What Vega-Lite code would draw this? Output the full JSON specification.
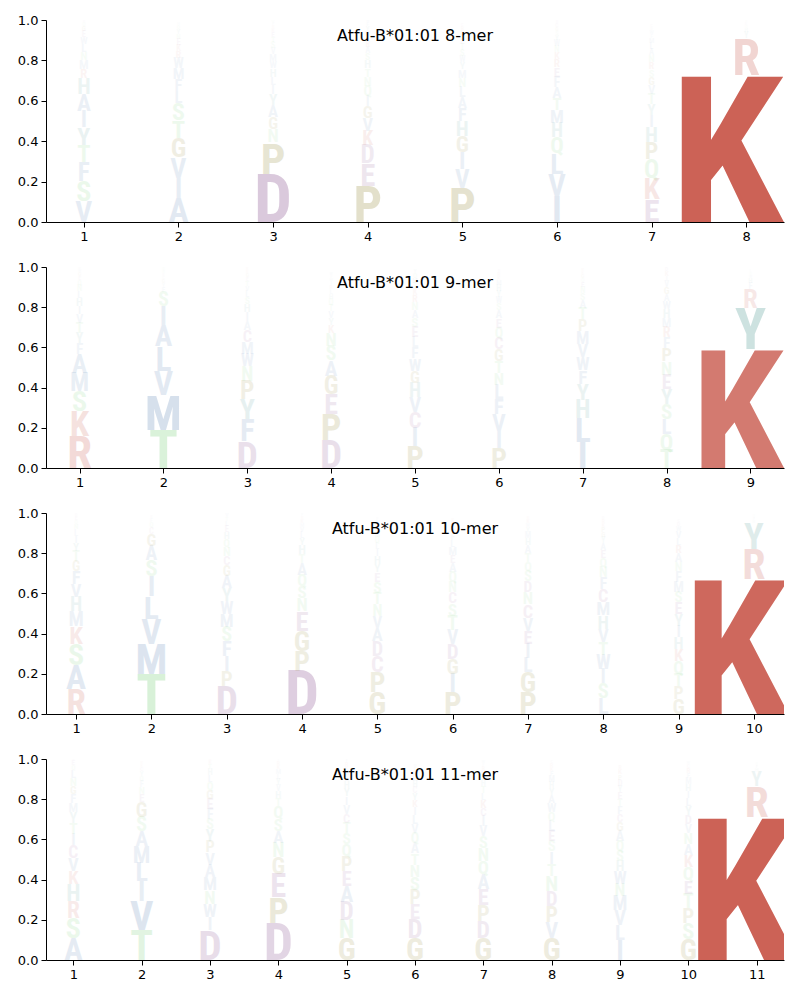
{
"$schema": "https://vega.github.io/schema/vega-lite/v6.json",
"background": "white",
"padding": {"left": 17, "top": 14, "right": 5, "bottom": 5},
"spacing": 18,
"config": {
  "view": {"stroke": null},
  "axis": {"domainColor": "black", "tickColor": "black", "labelColor": "black", "labelFont": "DejaVu Sans", "labelFontSize": 13, "tickSize": 5, "labelPadding": 3, "grid": false, "title": null},
  "title": {"font": "DejaVu Sans", "fontSize": 16, "fontWeight": "normal", "color": "black", "anchor": "middle", "offset": -30},
  "text": {"baseline": "alphabetic", "align": "center", "font": "Roboto Condensed, Liberation Sans Narrow, DejaVu Sans Condensed, DejaVu Sans Mono, monospace", "fontWeight": "bold"}
},
"datasets": {
"logo": [
{"mer":8,"pos":1,"aa":"V","p":0.105},{"mer":8,"pos":1,"aa":"S","p":0.10},{"mer":8,"pos":1,"aa":"F","p":0.09},{"mer":8,"pos":1,"aa":"T","p":0.087},{"mer":8,"pos":1,"aa":"Y","p":0.086},{"mer":8,"pos":1,"aa":"I","p":0.083},{"mer":8,"pos":1,"aa":"A","p":0.083},{"mer":8,"pos":1,"aa":"H","p":0.078},{"mer":8,"pos":1,"aa":"R","p":0.045},{"mer":8,"pos":1,"aa":"M","p":0.045},{"mer":8,"pos":1,"aa":"N","p":0.04},{"mer":8,"pos":1,"aa":"L","p":0.04},{"mer":8,"pos":1,"aa":"W","p":0.035},{"mer":8,"pos":1,"aa":"E","p":0.03},{"mer":8,"pos":1,"aa":"G","p":0.025},{"mer":8,"pos":1,"aa":"Q","p":0.02},{"mer":8,"pos":1,"aa":"D","p":0.015},
{"mer":8,"pos":2,"aa":"A","p":0.12},{"mer":8,"pos":2,"aa":"I","p":0.10},{"mer":8,"pos":2,"aa":"V","p":0.10},{"mer":8,"pos":2,"aa":"G","p":0.095},{"mer":8,"pos":2,"aa":"T","p":0.088},{"mer":8,"pos":2,"aa":"S","p":0.085},{"mer":8,"pos":2,"aa":"L","p":0.06},{"mer":8,"pos":2,"aa":"F","p":0.058},{"mer":8,"pos":2,"aa":"M","p":0.055},{"mer":8,"pos":2,"aa":"W","p":0.05},{"mer":8,"pos":2,"aa":"R","p":0.035},{"mer":8,"pos":2,"aa":"K","p":0.03},{"mer":8,"pos":2,"aa":"E","p":0.03},{"mer":8,"pos":2,"aa":"N","p":0.025},{"mer":8,"pos":2,"aa":"Y","p":0.025},{"mer":8,"pos":2,"aa":"Q","p":0.02},{"mer":8,"pos":2,"aa":"H","p":0.015},
{"mer":8,"pos":3,"aa":"D","p":0.24},{"mer":8,"pos":3,"aa":"P","p":0.155},{"mer":8,"pos":3,"aa":"N","p":0.065},{"mer":8,"pos":3,"aa":"G","p":0.06},{"mer":8,"pos":3,"aa":"A","p":0.06},{"mer":8,"pos":3,"aa":"Y","p":0.055},{"mer":8,"pos":3,"aa":"I","p":0.045},{"mer":8,"pos":3,"aa":"L","p":0.04},{"mer":8,"pos":3,"aa":"H","p":0.04},{"mer":8,"pos":3,"aa":"W","p":0.035},{"mer":8,"pos":3,"aa":"M","p":0.035},{"mer":8,"pos":3,"aa":"V","p":0.03},{"mer":8,"pos":3,"aa":"S","p":0.03},{"mer":8,"pos":3,"aa":"T","p":0.025},{"mer":8,"pos":3,"aa":"E","p":0.025},{"mer":8,"pos":3,"aa":"K","p":0.02},{"mer":8,"pos":3,"aa":"R","p":0.015},{"mer":8,"pos":3,"aa":"F","p":0.015},{"mer":8,"pos":3,"aa":"Q","p":0.015},
{"mer":8,"pos":4,"aa":"P","p":0.18},{"mer":8,"pos":4,"aa":"E","p":0.11},{"mer":8,"pos":4,"aa":"D","p":0.09},{"mer":8,"pos":4,"aa":"K","p":0.07},{"mer":8,"pos":4,"aa":"V","p":0.065},{"mer":8,"pos":4,"aa":"G","p":0.06},{"mer":8,"pos":4,"aa":"I","p":0.05},{"mer":8,"pos":4,"aa":"Q","p":0.05},{"mer":8,"pos":4,"aa":"N","p":0.045},{"mer":8,"pos":4,"aa":"T","p":0.04},{"mer":8,"pos":4,"aa":"H","p":0.04},{"mer":8,"pos":4,"aa":"S","p":0.035},{"mer":8,"pos":4,"aa":"A","p":0.03},{"mer":8,"pos":4,"aa":"R","p":0.03},{"mer":8,"pos":4,"aa":"L","p":0.025},{"mer":8,"pos":4,"aa":"M","p":0.025},{"mer":8,"pos":4,"aa":"Y","p":0.025},{"mer":8,"pos":4,"aa":"F","p":0.02},{"mer":8,"pos":4,"aa":"W","p":0.015},
{"mer":8,"pos":5,"aa":"P","p":0.17},{"mer":8,"pos":5,"aa":"V","p":0.09},{"mer":8,"pos":5,"aa":"I","p":0.085},{"mer":8,"pos":5,"aa":"G","p":0.08},{"mer":8,"pos":5,"aa":"H","p":0.075},{"mer":8,"pos":5,"aa":"F","p":0.065},{"mer":8,"pos":5,"aa":"A","p":0.055},{"mer":8,"pos":5,"aa":"L","p":0.05},{"mer":8,"pos":5,"aa":"N","p":0.045},{"mer":8,"pos":5,"aa":"M","p":0.04},{"mer":8,"pos":5,"aa":"Y","p":0.035},{"mer":8,"pos":5,"aa":"W","p":0.03},{"mer":8,"pos":5,"aa":"S","p":0.03},{"mer":8,"pos":5,"aa":"T","p":0.03},{"mer":8,"pos":5,"aa":"E","p":0.025},{"mer":8,"pos":5,"aa":"Q","p":0.025},{"mer":8,"pos":5,"aa":"K","p":0.02},{"mer":8,"pos":5,"aa":"R","p":0.02},{"mer":8,"pos":5,"aa":"C","p":0.015},
{"mer":8,"pos":6,"aa":"I","p":0.13},{"mer":8,"pos":6,"aa":"V","p":0.11},{"mer":8,"pos":6,"aa":"L","p":0.10},{"mer":8,"pos":6,"aa":"Q","p":0.08},{"mer":8,"pos":6,"aa":"H","p":0.07},{"mer":8,"pos":6,"aa":"M","p":0.065},{"mer":8,"pos":6,"aa":"T","p":0.06},{"mer":8,"pos":6,"aa":"A","p":0.055},{"mer":8,"pos":6,"aa":"F","p":0.05},{"mer":8,"pos":6,"aa":"E","p":0.045},{"mer":8,"pos":6,"aa":"R","p":0.04},{"mer":8,"pos":6,"aa":"K","p":0.035},{"mer":8,"pos":6,"aa":"N","p":0.03},{"mer":8,"pos":6,"aa":"W","p":0.03},{"mer":8,"pos":6,"aa":"Y","p":0.025},{"mer":8,"pos":6,"aa":"S","p":0.02},{"mer":8,"pos":6,"aa":"G","p":0.02},{"mer":8,"pos":6,"aa":"C","p":0.02},{"mer":8,"pos":6,"aa":"D","p":0.015},
{"mer":8,"pos":7,"aa":"E","p":0.115},{"mer":8,"pos":7,"aa":"K","p":0.105},{"mer":8,"pos":7,"aa":"Q","p":0.09},{"mer":8,"pos":7,"aa":"P","p":0.085},{"mer":8,"pos":7,"aa":"H","p":0.075},{"mer":8,"pos":7,"aa":"I","p":0.06},{"mer":8,"pos":7,"aa":"Y","p":0.055},{"mer":8,"pos":7,"aa":"T","p":0.05},{"mer":8,"pos":7,"aa":"V","p":0.045},{"mer":8,"pos":7,"aa":"G","p":0.04},{"mer":8,"pos":7,"aa":"S","p":0.035},{"mer":8,"pos":7,"aa":"R","p":0.035},{"mer":8,"pos":7,"aa":"N","p":0.035},{"mer":8,"pos":7,"aa":"A","p":0.03},{"mer":8,"pos":7,"aa":"L","p":0.03},{"mer":8,"pos":7,"aa":"M","p":0.025},{"mer":8,"pos":7,"aa":"F","p":0.02},{"mer":8,"pos":7,"aa":"W","p":0.02},{"mer":8,"pos":7,"aa":"D","p":0.015},{"mer":8,"pos":7,"aa":"C","p":0.015},
{"mer":8,"pos":8,"aa":"K","p":0.73},{"mer":8,"pos":8,"aa":"R","p":0.18},{"mer":8,"pos":8,"aa":"Y","p":0.03},{"mer":8,"pos":8,"aa":"H","p":0.02},{"mer":8,"pos":8,"aa":"Q","p":0.015},{"mer":8,"pos":8,"aa":"E","p":0.015},{"mer":8,"pos":8,"aa":"N","p":0.01},

{"mer":9,"pos":1,"aa":"R","p":0.16},{"mer":9,"pos":1,"aa":"K","p":0.125},{"mer":9,"pos":1,"aa":"S","p":0.10},{"mer":9,"pos":1,"aa":"M","p":0.09},{"mer":9,"pos":1,"aa":"A","p":0.09},{"mer":9,"pos":1,"aa":"F","p":0.055},{"mer":9,"pos":1,"aa":"Y","p":0.05},{"mer":9,"pos":1,"aa":"T","p":0.05},{"mer":9,"pos":1,"aa":"V","p":0.045},{"mer":9,"pos":1,"aa":"I","p":0.04},{"mer":9,"pos":1,"aa":"H","p":0.04},{"mer":9,"pos":1,"aa":"L","p":0.035},{"mer":9,"pos":1,"aa":"N","p":0.03},{"mer":9,"pos":1,"aa":"Q","p":0.025},{"mer":9,"pos":1,"aa":"E","p":0.02},{"mer":9,"pos":1,"aa":"G","p":0.02},{"mer":9,"pos":1,"aa":"W","p":0.015},{"mer":9,"pos":1,"aa":"D","p":0.015},
{"mer":9,"pos":2,"aa":"T","p":0.19},{"mer":9,"pos":2,"aa":"M","p":0.175},{"mer":9,"pos":2,"aa":"V","p":0.12},{"mer":9,"pos":2,"aa":"L","p":0.12},{"mer":9,"pos":2,"aa":"A","p":0.105},{"mer":9,"pos":2,"aa":"I","p":0.095},{"mer":9,"pos":2,"aa":"S","p":0.07},{"mer":9,"pos":2,"aa":"F","p":0.025},{"mer":9,"pos":2,"aa":"Y","p":0.02},{"mer":9,"pos":2,"aa":"G","p":0.02},{"mer":9,"pos":2,"aa":"C","p":0.015},{"mer":9,"pos":2,"aa":"E","p":0.015},{"mer":9,"pos":2,"aa":"N","p":0.015},{"mer":9,"pos":2,"aa":"Q","p":0.015},
{"mer":9,"pos":3,"aa":"D","p":0.135},{"mer":9,"pos":3,"aa":"F","p":0.11},{"mer":9,"pos":3,"aa":"Y","p":0.10},{"mer":9,"pos":3,"aa":"P","p":0.09},{"mer":9,"pos":3,"aa":"N","p":0.07},{"mer":9,"pos":3,"aa":"W","p":0.063},{"mer":9,"pos":3,"aa":"M","p":0.06},{"mer":9,"pos":3,"aa":"C","p":0.058},{"mer":9,"pos":3,"aa":"A","p":0.045},{"mer":9,"pos":3,"aa":"I","p":0.045},{"mer":9,"pos":3,"aa":"H","p":0.04},{"mer":9,"pos":3,"aa":"S","p":0.035},{"mer":9,"pos":3,"aa":"L","p":0.03},{"mer":9,"pos":3,"aa":"V","p":0.025},{"mer":9,"pos":3,"aa":"T","p":0.025},{"mer":9,"pos":3,"aa":"E","p":0.02},{"mer":9,"pos":3,"aa":"G","p":0.02},{"mer":9,"pos":3,"aa":"R","p":0.015},{"mer":9,"pos":3,"aa":"K","p":0.015},
{"mer":9,"pos":4,"aa":"D","p":0.14},{"mer":9,"pos":4,"aa":"P","p":0.13},{"mer":9,"pos":4,"aa":"E","p":0.10},{"mer":9,"pos":4,"aa":"G","p":0.09},{"mer":9,"pos":4,"aa":"A","p":0.075},{"mer":9,"pos":4,"aa":"S","p":0.07},{"mer":9,"pos":4,"aa":"N","p":0.065},{"mer":9,"pos":4,"aa":"K","p":0.04},{"mer":9,"pos":4,"aa":"Y","p":0.035},{"mer":9,"pos":4,"aa":"V","p":0.035},{"mer":9,"pos":4,"aa":"T","p":0.03},{"mer":9,"pos":4,"aa":"Q","p":0.03},{"mer":9,"pos":4,"aa":"H","p":0.025},{"mer":9,"pos":4,"aa":"L","p":0.025},{"mer":9,"pos":4,"aa":"R","p":0.02},{"mer":9,"pos":4,"aa":"I","p":0.02},{"mer":9,"pos":4,"aa":"M","p":0.015},{"mer":9,"pos":4,"aa":"F","p":0.015},{"mer":9,"pos":4,"aa":"W","p":0.015},
{"mer":9,"pos":5,"aa":"P","p":0.11},{"mer":9,"pos":5,"aa":"I","p":0.09},{"mer":9,"pos":5,"aa":"C","p":0.08},{"mer":9,"pos":5,"aa":"V","p":0.075},{"mer":9,"pos":5,"aa":"H","p":0.07},{"mer":9,"pos":5,"aa":"G","p":0.06},{"mer":9,"pos":5,"aa":"W","p":0.06},{"mer":9,"pos":5,"aa":"F","p":0.055},{"mer":9,"pos":5,"aa":"L","p":0.05},{"mer":9,"pos":5,"aa":"E","p":0.05},{"mer":9,"pos":5,"aa":"S","p":0.045},{"mer":9,"pos":5,"aa":"A","p":0.04},{"mer":9,"pos":5,"aa":"N","p":0.04},{"mer":9,"pos":5,"aa":"R","p":0.035},{"mer":9,"pos":5,"aa":"K","p":0.03},{"mer":9,"pos":5,"aa":"T","p":0.03},{"mer":9,"pos":5,"aa":"M","p":0.025},{"mer":9,"pos":5,"aa":"Q","p":0.025},{"mer":9,"pos":5,"aa":"Y","p":0.02},
{"mer":9,"pos":6,"aa":"P","p":0.10},{"mer":9,"pos":6,"aa":"I","p":0.085},{"mer":9,"pos":6,"aa":"V","p":0.085},{"mer":9,"pos":6,"aa":"F","p":0.075},{"mer":9,"pos":6,"aa":"L","p":0.07},{"mer":9,"pos":6,"aa":"N","p":0.06},{"mer":9,"pos":6,"aa":"T","p":0.058},{"mer":9,"pos":6,"aa":"G","p":0.058},{"mer":9,"pos":6,"aa":"C","p":0.058},{"mer":9,"pos":6,"aa":"Q","p":0.05},{"mer":9,"pos":6,"aa":"E","p":0.045},{"mer":9,"pos":6,"aa":"A","p":0.04},{"mer":9,"pos":6,"aa":"S","p":0.035},{"mer":9,"pos":6,"aa":"W","p":0.03},{"mer":9,"pos":6,"aa":"Y","p":0.03},{"mer":9,"pos":6,"aa":"H","p":0.03},{"mer":9,"pos":6,"aa":"M","p":0.025},{"mer":9,"pos":6,"aa":"K","p":0.02},{"mer":9,"pos":6,"aa":"R","p":0.02},{"mer":9,"pos":6,"aa":"D","p":0.015},
{"mer":9,"pos":7,"aa":"I","p":0.13},{"mer":9,"pos":7,"aa":"L","p":0.12},{"mer":9,"pos":7,"aa":"H","p":0.09},{"mer":9,"pos":7,"aa":"Y","p":0.08},{"mer":9,"pos":7,"aa":"F","p":0.068},{"mer":9,"pos":7,"aa":"W","p":0.065},{"mer":9,"pos":7,"aa":"V","p":0.065},{"mer":9,"pos":7,"aa":"M","p":0.063},{"mer":9,"pos":7,"aa":"P","p":0.058},{"mer":9,"pos":7,"aa":"T","p":0.058},{"mer":9,"pos":7,"aa":"A","p":0.04},{"mer":9,"pos":7,"aa":"S","p":0.035},{"mer":9,"pos":7,"aa":"N","p":0.03},{"mer":9,"pos":7,"aa":"E","p":0.025},{"mer":9,"pos":7,"aa":"Q","p":0.02},{"mer":9,"pos":7,"aa":"G","p":0.02},{"mer":9,"pos":7,"aa":"K","p":0.015},{"mer":9,"pos":7,"aa":"R","p":0.015},
{"mer":9,"pos":8,"aa":"T","p":0.09},{"mer":9,"pos":8,"aa":"Q","p":0.08},{"mer":9,"pos":8,"aa":"L","p":0.075},{"mer":9,"pos":8,"aa":"S","p":0.075},{"mer":9,"pos":8,"aa":"Y","p":0.075},{"mer":9,"pos":8,"aa":"E","p":0.07},{"mer":9,"pos":8,"aa":"N","p":0.065},{"mer":9,"pos":8,"aa":"P","p":0.065},{"mer":9,"pos":8,"aa":"F","p":0.055},{"mer":9,"pos":8,"aa":"R","p":0.05},{"mer":9,"pos":8,"aa":"M","p":0.045},{"mer":9,"pos":8,"aa":"H","p":0.045},{"mer":9,"pos":8,"aa":"W","p":0.04},{"mer":9,"pos":8,"aa":"A","p":0.035},{"mer":9,"pos":8,"aa":"G","p":0.035},{"mer":9,"pos":8,"aa":"V","p":0.03},{"mer":9,"pos":8,"aa":"I","p":0.025},{"mer":9,"pos":8,"aa":"K","p":0.025},{"mer":9,"pos":8,"aa":"D","p":0.02},
{"mer":9,"pos":9,"aa":"K","p":0.59},{"mer":9,"pos":9,"aa":"Y","p":0.205},{"mer":9,"pos":9,"aa":"R","p":0.095},{"mer":9,"pos":9,"aa":"F","p":0.03},{"mer":9,"pos":9,"aa":"H","p":0.025},{"mer":9,"pos":9,"aa":"W","p":0.015},{"mer":9,"pos":9,"aa":"Q","p":0.015},{"mer":9,"pos":9,"aa":"L","p":0.01},

{"mer":10,"pos":1,"aa":"R","p":0.125},{"mer":10,"pos":1,"aa":"A","p":0.12},{"mer":10,"pos":1,"aa":"S","p":0.105},{"mer":10,"pos":1,"aa":"K","p":0.088},{"mer":10,"pos":1,"aa":"M","p":0.072},{"mer":10,"pos":1,"aa":"H","p":0.071},{"mer":10,"pos":1,"aa":"V","p":0.066},{"mer":10,"pos":1,"aa":"F","p":0.066},{"mer":10,"pos":1,"aa":"G","p":0.05},{"mer":10,"pos":1,"aa":"T","p":0.05},{"mer":10,"pos":1,"aa":"Y","p":0.04},{"mer":10,"pos":1,"aa":"I","p":0.035},{"mer":10,"pos":1,"aa":"L","p":0.03},{"mer":10,"pos":1,"aa":"N","p":0.025},{"mer":10,"pos":1,"aa":"Q","p":0.02},{"mer":10,"pos":1,"aa":"E","p":0.02},{"mer":10,"pos":1,"aa":"D","p":0.015},{"mer":10,"pos":1,"aa":"W","p":0.015},
{"mer":10,"pos":2,"aa":"T","p":0.20},{"mer":10,"pos":2,"aa":"M","p":0.15},{"mer":10,"pos":2,"aa":"V","p":0.125},{"mer":10,"pos":2,"aa":"L","p":0.113},{"mer":10,"pos":2,"aa":"I","p":0.10},{"mer":10,"pos":2,"aa":"S","p":0.08},{"mer":10,"pos":2,"aa":"A","p":0.07},{"mer":10,"pos":2,"aa":"G","p":0.06},{"mer":10,"pos":2,"aa":"C","p":0.03},{"mer":10,"pos":2,"aa":"Q","p":0.025},{"mer":10,"pos":2,"aa":"F","p":0.02},{"mer":10,"pos":2,"aa":"E","p":0.015},
{"mer":10,"pos":3,"aa":"D","p":0.14},{"mer":10,"pos":3,"aa":"P","p":0.075},{"mer":10,"pos":3,"aa":"I","p":0.075},{"mer":10,"pos":3,"aa":"F","p":0.075},{"mer":10,"pos":3,"aa":"S","p":0.07},{"mer":10,"pos":3,"aa":"M","p":0.065},{"mer":10,"pos":3,"aa":"W","p":0.063},{"mer":10,"pos":3,"aa":"Y","p":0.063},{"mer":10,"pos":3,"aa":"A","p":0.063},{"mer":10,"pos":3,"aa":"G","p":0.05},{"mer":10,"pos":3,"aa":"C","p":0.045},{"mer":10,"pos":3,"aa":"N","p":0.045},{"mer":10,"pos":3,"aa":"Q","p":0.04},{"mer":10,"pos":3,"aa":"H","p":0.035},{"mer":10,"pos":3,"aa":"E","p":0.03},{"mer":10,"pos":3,"aa":"L","p":0.025},{"mer":10,"pos":3,"aa":"T","p":0.02},{"mer":10,"pos":3,"aa":"V","p":0.02},{"mer":10,"pos":3,"aa":"K","p":0.015},
{"mer":10,"pos":4,"aa":"D","p":0.215},{"mer":10,"pos":4,"aa":"P","p":0.10},{"mer":10,"pos":4,"aa":"G","p":0.10},{"mer":10,"pos":4,"aa":"E","p":0.095},{"mer":10,"pos":4,"aa":"N","p":0.065},{"mer":10,"pos":4,"aa":"S","p":0.06},{"mer":10,"pos":4,"aa":"Q","p":0.058},{"mer":10,"pos":4,"aa":"A","p":0.058},{"mer":10,"pos":4,"aa":"T","p":0.045},{"mer":10,"pos":4,"aa":"H","p":0.045},{"mer":10,"pos":4,"aa":"Y","p":0.035},{"mer":10,"pos":4,"aa":"L","p":0.03},{"mer":10,"pos":4,"aa":"V","p":0.025},{"mer":10,"pos":4,"aa":"M","p":0.02},{"mer":10,"pos":4,"aa":"K","p":0.02},{"mer":10,"pos":4,"aa":"R","p":0.015},{"mer":10,"pos":4,"aa":"F","p":0.015},
{"mer":10,"pos":5,"aa":"G","p":0.11},{"mer":10,"pos":5,"aa":"P","p":0.10},{"mer":10,"pos":5,"aa":"C","p":0.08},{"mer":10,"pos":5,"aa":"D","p":0.072},{"mer":10,"pos":5,"aa":"A","p":0.066},{"mer":10,"pos":5,"aa":"V","p":0.06},{"mer":10,"pos":5,"aa":"N","p":0.058},{"mer":10,"pos":5,"aa":"T","p":0.058},{"mer":10,"pos":5,"aa":"S","p":0.055},{"mer":10,"pos":5,"aa":"E","p":0.045},{"mer":10,"pos":5,"aa":"Y","p":0.04},{"mer":10,"pos":5,"aa":"H","p":0.04},{"mer":10,"pos":5,"aa":"I","p":0.035},{"mer":10,"pos":5,"aa":"L","p":0.03},{"mer":10,"pos":5,"aa":"Q","p":0.03},{"mer":10,"pos":5,"aa":"M","p":0.025},{"mer":10,"pos":5,"aa":"K","p":0.02},{"mer":10,"pos":5,"aa":"R","p":0.02},{"mer":10,"pos":5,"aa":"W","p":0.02},{"mer":10,"pos":5,"aa":"F","p":0.015},
{"mer":10,"pos":6,"aa":"P","p":0.11},{"mer":10,"pos":6,"aa":"I","p":0.09},{"mer":10,"pos":6,"aa":"G","p":0.075},{"mer":10,"pos":6,"aa":"D","p":0.075},{"mer":10,"pos":6,"aa":"V","p":0.07},{"mer":10,"pos":6,"aa":"T","p":0.07},{"mer":10,"pos":6,"aa":"S","p":0.06},{"mer":10,"pos":6,"aa":"C","p":0.055},{"mer":10,"pos":6,"aa":"N","p":0.05},{"mer":10,"pos":6,"aa":"Q","p":0.05},{"mer":10,"pos":6,"aa":"A","p":0.045},{"mer":10,"pos":6,"aa":"E","p":0.04},{"mer":10,"pos":6,"aa":"M","p":0.04},{"mer":10,"pos":6,"aa":"L","p":0.035},{"mer":10,"pos":6,"aa":"F","p":0.03},{"mer":10,"pos":6,"aa":"Y","p":0.025},{"mer":10,"pos":6,"aa":"H","p":0.02},{"mer":10,"pos":6,"aa":"K","p":0.02},{"mer":10,"pos":6,"aa":"R","p":0.015},
{"mer":10,"pos":7,"aa":"P","p":0.11},{"mer":10,"pos":7,"aa":"G","p":0.10},{"mer":10,"pos":7,"aa":"L","p":0.07},{"mer":10,"pos":7,"aa":"I","p":0.07},{"mer":10,"pos":7,"aa":"E","p":0.065},{"mer":10,"pos":7,"aa":"V","p":0.065},{"mer":10,"pos":7,"aa":"C","p":0.065},{"mer":10,"pos":7,"aa":"N","p":0.06},{"mer":10,"pos":7,"aa":"D","p":0.055},{"mer":10,"pos":7,"aa":"S","p":0.05},{"mer":10,"pos":7,"aa":"Q","p":0.045},{"mer":10,"pos":7,"aa":"T","p":0.045},{"mer":10,"pos":7,"aa":"A","p":0.04},{"mer":10,"pos":7,"aa":"H","p":0.035},{"mer":10,"pos":7,"aa":"M","p":0.03},{"mer":10,"pos":7,"aa":"Y","p":0.025},{"mer":10,"pos":7,"aa":"W","p":0.02},{"mer":10,"pos":7,"aa":"K","p":0.02},{"mer":10,"pos":7,"aa":"R","p":0.015},
{"mer":10,"pos":8,"aa":"L","p":0.08},{"mer":10,"pos":8,"aa":"S","p":0.073},{"mer":10,"pos":8,"aa":"I","p":0.07},{"mer":10,"pos":8,"aa":"W","p":0.07},{"mer":10,"pos":8,"aa":"T","p":0.066},{"mer":10,"pos":8,"aa":"V","p":0.066},{"mer":10,"pos":8,"aa":"H","p":0.066},{"mer":10,"pos":8,"aa":"M","p":0.066},{"mer":10,"pos":8,"aa":"C","p":0.065},{"mer":10,"pos":8,"aa":"F","p":0.058},{"mer":10,"pos":8,"aa":"N","p":0.05},{"mer":10,"pos":8,"aa":"Q","p":0.045},{"mer":10,"pos":8,"aa":"E","p":0.04},{"mer":10,"pos":8,"aa":"A","p":0.035},{"mer":10,"pos":8,"aa":"Y","p":0.03},{"mer":10,"pos":8,"aa":"G","p":0.025},{"mer":10,"pos":8,"aa":"P","p":0.025},{"mer":10,"pos":8,"aa":"K","p":0.02},{"mer":10,"pos":8,"aa":"R","p":0.02},{"mer":10,"pos":8,"aa":"D","p":0.015},
{"mer":10,"pos":9,"aa":"G","p":0.075},{"mer":10,"pos":9,"aa":"P","p":0.063},{"mer":10,"pos":9,"aa":"T","p":0.063},{"mer":10,"pos":9,"aa":"Q","p":0.063},{"mer":10,"pos":9,"aa":"K","p":0.06},{"mer":10,"pos":9,"aa":"H","p":0.058},{"mer":10,"pos":9,"aa":"I","p":0.058},{"mer":10,"pos":9,"aa":"Y","p":0.058},{"mer":10,"pos":9,"aa":"E","p":0.058},{"mer":10,"pos":9,"aa":"S","p":0.053},{"mer":10,"pos":9,"aa":"M","p":0.05},{"mer":10,"pos":9,"aa":"F","p":0.05},{"mer":10,"pos":9,"aa":"N","p":0.045},{"mer":10,"pos":9,"aa":"A","p":0.045},{"mer":10,"pos":9,"aa":"R","p":0.04},{"mer":10,"pos":9,"aa":"L","p":0.035},{"mer":10,"pos":9,"aa":"V","p":0.035},{"mer":10,"pos":9,"aa":"W","p":0.025},{"mer":10,"pos":9,"aa":"D","p":0.02},{"mer":10,"pos":9,"aa":"C","p":0.015},
{"mer":10,"pos":10,"aa":"K","p":0.67},{"mer":10,"pos":10,"aa":"R","p":0.15},{"mer":10,"pos":10,"aa":"Y","p":0.13},{"mer":10,"pos":10,"aa":"H","p":0.015},{"mer":10,"pos":10,"aa":"F","p":0.015},{"mer":10,"pos":10,"aa":"Q","p":0.01},

{"mer":11,"pos":1,"aa":"A","p":0.11},{"mer":11,"pos":1,"aa":"S","p":0.10},{"mer":11,"pos":1,"aa":"R","p":0.083},{"mer":11,"pos":1,"aa":"H","p":0.083},{"mer":11,"pos":1,"aa":"K","p":0.066},{"mer":11,"pos":1,"aa":"V","p":0.066},{"mer":11,"pos":1,"aa":"C","p":0.063},{"mer":11,"pos":1,"aa":"I","p":0.058},{"mer":11,"pos":1,"aa":"T","p":0.055},{"mer":11,"pos":1,"aa":"Y","p":0.05},{"mer":11,"pos":1,"aa":"M","p":0.045},{"mer":11,"pos":1,"aa":"F","p":0.045},{"mer":11,"pos":1,"aa":"G","p":0.04},{"mer":11,"pos":1,"aa":"N","p":0.04},{"mer":11,"pos":1,"aa":"L","p":0.04},{"mer":11,"pos":1,"aa":"Q","p":0.025},{"mer":11,"pos":1,"aa":"E","p":0.025},{"mer":11,"pos":1,"aa":"D","p":0.015},
{"mer":11,"pos":2,"aa":"T","p":0.15},{"mer":11,"pos":2,"aa":"V","p":0.145},{"mer":11,"pos":2,"aa":"I","p":0.096},{"mer":11,"pos":2,"aa":"L","p":0.093},{"mer":11,"pos":2,"aa":"M","p":0.083},{"mer":11,"pos":2,"aa":"A","p":0.075},{"mer":11,"pos":2,"aa":"S","p":0.071},{"mer":11,"pos":2,"aa":"G","p":0.071},{"mer":11,"pos":2,"aa":"E","p":0.04},{"mer":11,"pos":2,"aa":"N","p":0.035},{"mer":11,"pos":2,"aa":"F","p":0.03},{"mer":11,"pos":2,"aa":"Q","p":0.025},{"mer":11,"pos":2,"aa":"Y","p":0.025},{"mer":11,"pos":2,"aa":"C","p":0.02},{"mer":11,"pos":2,"aa":"K","p":0.015},{"mer":11,"pos":2,"aa":"R","p":0.015},
{"mer":11,"pos":3,"aa":"D","p":0.148},{"mer":11,"pos":3,"aa":"I","p":0.066},{"mer":11,"pos":3,"aa":"W","p":0.066},{"mer":11,"pos":3,"aa":"N","p":0.066},{"mer":11,"pos":3,"aa":"M","p":0.066},{"mer":11,"pos":3,"aa":"A","p":0.063},{"mer":11,"pos":3,"aa":"V","p":0.06},{"mer":11,"pos":3,"aa":"P","p":0.058},{"mer":11,"pos":3,"aa":"Y","p":0.058},{"mer":11,"pos":3,"aa":"S","p":0.05},{"mer":11,"pos":3,"aa":"F","p":0.05},{"mer":11,"pos":3,"aa":"E","p":0.05},{"mer":11,"pos":3,"aa":"G","p":0.045},{"mer":11,"pos":3,"aa":"Q","p":0.04},{"mer":11,"pos":3,"aa":"L","p":0.035},{"mer":11,"pos":3,"aa":"H","p":0.03},{"mer":11,"pos":3,"aa":"T","p":0.025},{"mer":11,"pos":3,"aa":"K","p":0.02},{"mer":11,"pos":3,"aa":"R","p":0.015},
{"mer":11,"pos":4,"aa":"D","p":0.185},{"mer":11,"pos":4,"aa":"P","p":0.128},{"mer":11,"pos":4,"aa":"E","p":0.116},{"mer":11,"pos":4,"aa":"G","p":0.083},{"mer":11,"pos":4,"aa":"N","p":0.071},{"mer":11,"pos":4,"aa":"A","p":0.061},{"mer":11,"pos":4,"aa":"S","p":0.06},{"mer":11,"pos":4,"aa":"Q","p":0.06},{"mer":11,"pos":4,"aa":"T","p":0.04},{"mer":11,"pos":4,"aa":"H","p":0.035},{"mer":11,"pos":4,"aa":"V","p":0.03},{"mer":11,"pos":4,"aa":"Y","p":0.03},{"mer":11,"pos":4,"aa":"L","p":0.025},{"mer":11,"pos":4,"aa":"M","p":0.025},{"mer":11,"pos":4,"aa":"K","p":0.02},{"mer":11,"pos":4,"aa":"R","p":0.02},{"mer":11,"pos":4,"aa":"I","p":0.015},
{"mer":11,"pos":5,"aa":"G","p":0.11},{"mer":11,"pos":5,"aa":"N","p":0.091},{"mer":11,"pos":5,"aa":"D","p":0.09},{"mer":11,"pos":5,"aa":"A","p":0.078},{"mer":11,"pos":5,"aa":"E","p":0.075},{"mer":11,"pos":5,"aa":"P","p":0.071},{"mer":11,"pos":5,"aa":"Q","p":0.06},{"mer":11,"pos":5,"aa":"S","p":0.055},{"mer":11,"pos":5,"aa":"T","p":0.053},{"mer":11,"pos":5,"aa":"C","p":0.045},{"mer":11,"pos":5,"aa":"V","p":0.045},{"mer":11,"pos":5,"aa":"I","p":0.041},{"mer":11,"pos":5,"aa":"Y","p":0.04},{"mer":11,"pos":5,"aa":"H","p":0.035},{"mer":11,"pos":5,"aa":"L","p":0.03},{"mer":11,"pos":5,"aa":"M","p":0.025},{"mer":11,"pos":5,"aa":"K","p":0.02},{"mer":11,"pos":5,"aa":"R","p":0.02},{"mer":11,"pos":5,"aa":"F","p":0.015},
{"mer":11,"pos":6,"aa":"G","p":0.11},{"mer":11,"pos":6,"aa":"D","p":0.095},{"mer":11,"pos":6,"aa":"E","p":0.075},{"mer":11,"pos":6,"aa":"P","p":0.07},{"mer":11,"pos":6,"aa":"S","p":0.065},{"mer":11,"pos":6,"aa":"N","p":0.06},{"mer":11,"pos":6,"aa":"T","p":0.055},{"mer":11,"pos":6,"aa":"A","p":0.05},{"mer":11,"pos":6,"aa":"Q","p":0.05},{"mer":11,"pos":6,"aa":"V","p":0.045},{"mer":11,"pos":6,"aa":"L","p":0.045},{"mer":11,"pos":6,"aa":"I","p":0.04},{"mer":11,"pos":6,"aa":"K","p":0.035},{"mer":11,"pos":6,"aa":"Y","p":0.035},{"mer":11,"pos":6,"aa":"C","p":0.03},{"mer":11,"pos":6,"aa":"H","p":0.03},{"mer":11,"pos":6,"aa":"M","p":0.025},{"mer":11,"pos":6,"aa":"R","p":0.025},{"mer":11,"pos":6,"aa":"F","p":0.02},{"mer":11,"pos":6,"aa":"W","p":0.015},
{"mer":11,"pos":7,"aa":"G","p":0.11},{"mer":11,"pos":7,"aa":"D","p":0.085},{"mer":11,"pos":7,"aa":"P","p":0.08},{"mer":11,"pos":7,"aa":"E","p":0.08},{"mer":11,"pos":7,"aa":"A","p":0.071},{"mer":11,"pos":7,"aa":"Q","p":0.066},{"mer":11,"pos":7,"aa":"N","p":0.066},{"mer":11,"pos":7,"aa":"S","p":0.058},{"mer":11,"pos":7,"aa":"V","p":0.05},{"mer":11,"pos":7,"aa":"I","p":0.05},{"mer":11,"pos":7,"aa":"C","p":0.04},{"mer":11,"pos":7,"aa":"K","p":0.04},{"mer":11,"pos":7,"aa":"L","p":0.035},{"mer":11,"pos":7,"aa":"T","p":0.035},{"mer":11,"pos":7,"aa":"H","p":0.03},{"mer":11,"pos":7,"aa":"Y","p":0.025},{"mer":11,"pos":7,"aa":"M","p":0.025},{"mer":11,"pos":7,"aa":"R","p":0.02},{"mer":11,"pos":7,"aa":"F","p":0.015},{"mer":11,"pos":7,"aa":"W","p":0.015},
{"mer":11,"pos":8,"aa":"G","p":0.11},{"mer":11,"pos":8,"aa":"V","p":0.08},{"mer":11,"pos":8,"aa":"P","p":0.078},{"mer":11,"pos":8,"aa":"D","p":0.075},{"mer":11,"pos":8,"aa":"N","p":0.075},{"mer":11,"pos":8,"aa":"T","p":0.061},{"mer":11,"pos":8,"aa":"I","p":0.061},{"mer":11,"pos":8,"aa":"S","p":0.05},{"mer":11,"pos":8,"aa":"E","p":0.05},{"mer":11,"pos":8,"aa":"L","p":0.05},{"mer":11,"pos":8,"aa":"Q","p":0.045},{"mer":11,"pos":8,"aa":"W","p":0.045},{"mer":11,"pos":8,"aa":"A","p":0.04},{"mer":11,"pos":8,"aa":"Y","p":0.035},{"mer":11,"pos":8,"aa":"H","p":0.03},{"mer":11,"pos":8,"aa":"M","p":0.03},{"mer":11,"pos":8,"aa":"F","p":0.025},{"mer":11,"pos":8,"aa":"K","p":0.02},{"mer":11,"pos":8,"aa":"R","p":0.02},{"mer":11,"pos":8,"aa":"C","p":0.015},
{"mer":11,"pos":9,"aa":"I","p":0.10},{"mer":11,"pos":9,"aa":"L","p":0.075},{"mer":11,"pos":9,"aa":"V","p":0.072},{"mer":11,"pos":9,"aa":"M","p":0.07},{"mer":11,"pos":9,"aa":"N","p":0.063},{"mer":11,"pos":9,"aa":"W","p":0.063},{"mer":11,"pos":9,"aa":"H","p":0.05},{"mer":11,"pos":9,"aa":"S","p":0.05},{"mer":11,"pos":9,"aa":"Q","p":0.05},{"mer":11,"pos":9,"aa":"A","p":0.05},{"mer":11,"pos":9,"aa":"G","p":0.045},{"mer":11,"pos":9,"aa":"C","p":0.04},{"mer":11,"pos":9,"aa":"F","p":0.04},{"mer":11,"pos":9,"aa":"T","p":0.035},{"mer":11,"pos":9,"aa":"E","p":0.035},{"mer":11,"pos":9,"aa":"Y","p":0.03},{"mer":11,"pos":9,"aa":"D","p":0.03},{"mer":11,"pos":9,"aa":"P","p":0.025},{"mer":11,"pos":9,"aa":"K","p":0.025},{"mer":11,"pos":9,"aa":"R","p":0.02},
{"mer":11,"pos":10,"aa":"G","p":0.105},{"mer":11,"pos":10,"aa":"S","p":0.08},{"mer":11,"pos":10,"aa":"P","p":0.075},{"mer":11,"pos":10,"aa":"T","p":0.07},{"mer":11,"pos":10,"aa":"E","p":0.066},{"mer":11,"pos":10,"aa":"Q","p":0.066},{"mer":11,"pos":10,"aa":"K","p":0.06},{"mer":11,"pos":10,"aa":"A","p":0.055},{"mer":11,"pos":10,"aa":"N","p":0.055},{"mer":11,"pos":10,"aa":"V","p":0.045},{"mer":11,"pos":10,"aa":"D","p":0.045},{"mer":11,"pos":10,"aa":"Y","p":0.045},{"mer":11,"pos":10,"aa":"L","p":0.04},{"mer":11,"pos":10,"aa":"I","p":0.035},{"mer":11,"pos":10,"aa":"H","p":0.035},{"mer":11,"pos":10,"aa":"M","p":0.03},{"mer":11,"pos":10,"aa":"F","p":0.025},{"mer":11,"pos":10,"aa":"R","p":0.025},{"mer":11,"pos":10,"aa":"C","p":0.02},{"mer":11,"pos":10,"aa":"W","p":0.015},
{"mer":11,"pos":11,"aa":"K","p":0.71},{"mer":11,"pos":11,"aa":"R","p":0.155},{"mer":11,"pos":11,"aa":"Y","p":0.07},{"mer":11,"pos":11,"aa":"H","p":0.02},{"mer":11,"pos":11,"aa":"F","p":0.015},{"mer":11,"pos":11,"aa":"Q","p":0.01}
]
},
"vconcat": [
{
  "width": 738, "height": 202,
  "title": "Atfu-B*01:01 8-mer",
  "data": {"name": "logo"},
  "transform": [
    {"filter": "datum.mer == 8"},
    {"stack": "p", "groupby": ["pos"], "sort": [{"field": "p", "order": "descending"}], "as": ["y0", "y1"]}
  ],
  "encoding": {
    "x": {"field": "pos", "type": "quantitative", "scale": {"domain": [0.6, 8.4], "nice": false, "zero": false}, "axis": {"values": [1,2,3,4,5,6,7,8], "format": "d"}},
    "y": {"field": "y0", "type": "quantitative", "scale": {"domain": [0, 1], "nice": false}, "axis": {"values": [0,0.2,0.4,0.6,0.8,1], "format": ".1f"}},
    "text": {"field": "aa"},
    "size": {"field": "p", "type": "quantitative", "scale": {"type": "linear", "domain": [0, 1], "range": [0, 280]}, "legend": null},
    "color": {"field": "aa", "type": "nominal", "scale": {"domain": ["K","R","D","E","C","P","G","A","V","L","I","M","F","W","S","T","N","Q","Y","H"], "range": ["#cc6256","#cc6256","#95639b","#95639b","#a4679f","#968c3c","#968c3c","#5f87b7","#5f87b7","#5f87b7","#5f87b7","#5f87b7","#5f87b7","#5f87b7","#7bd17b","#7bd17b","#7bd17b","#7bd17b","#589e98","#589e98"]}, "legend": null},
    "opacity": {"field": "p", "type": "quantitative", "scale": {"domain": [0, 0.7], "range": [0, 1], "clamp": true}, "legend": null}
  },
  "layer": [
    {"transform": [{"filter": "datum.p < 0.4"}], "mark": {"type": "text", "clip": true}},
    {"transform": [{"filter": "datum.p >= 0.4"}], "mark": {"type": "text", "clip": true, "align": "right", "dx": 37}}
  ]
},
{
  "width": 738, "height": 201,
  "title": "Atfu-B*01:01 9-mer",
  "data": {"name": "logo"},
  "transform": [
    {"filter": "datum.mer == 9"},
    {"stack": "p", "groupby": ["pos"], "sort": [{"field": "p", "order": "descending"}], "as": ["y0", "y1"]}
  ],
  "encoding": {
    "x": {"field": "pos", "type": "quantitative", "scale": {"domain": [0.6, 9.4], "nice": false, "zero": false}, "axis": {"values": [1,2,3,4,5,6,7,8,9], "format": "d"}},
    "y": {"field": "y0", "type": "quantitative", "scale": {"domain": [0, 1], "nice": false}, "axis": {"values": [0,0.2,0.4,0.6,0.8,1], "format": ".1f"}},
    "text": {"field": "aa"},
    "size": {"field": "p", "type": "quantitative", "scale": {"type": "linear", "domain": [0, 1], "range": [0, 279]}, "legend": null},
    "color": {"field": "aa", "type": "nominal", "scale": {"domain": ["K","R","D","E","C","P","G","A","V","L","I","M","F","W","S","T","N","Q","Y","H"], "range": ["#cc6256","#cc6256","#95639b","#95639b","#a4679f","#968c3c","#968c3c","#5f87b7","#5f87b7","#5f87b7","#5f87b7","#5f87b7","#5f87b7","#5f87b7","#7bd17b","#7bd17b","#7bd17b","#7bd17b","#589e98","#589e98"]}, "legend": null},
    "opacity": {"field": "p", "type": "quantitative", "scale": {"domain": [0, 0.7], "range": [0, 1], "clamp": true}, "legend": null}
  },
  "layer": [
    {"transform": [{"filter": "datum.p < 0.4"}], "mark": {"type": "text", "clip": true}},
    {"transform": [{"filter": "datum.p >= 0.4"}], "mark": {"type": "text", "clip": true, "align": "right", "dx": 33}}
  ]
},
{
  "width": 738, "height": 201,
  "title": "Atfu-B*01:01 10-mer",
  "data": {"name": "logo"},
  "transform": [
    {"filter": "datum.mer == 10"},
    {"stack": "p", "groupby": ["pos"], "sort": [{"field": "p", "order": "descending"}], "as": ["y0", "y1"]}
  ],
  "encoding": {
    "x": {"field": "pos", "type": "quantitative", "scale": {"domain": [0.6, 10.4], "nice": false, "zero": false}, "axis": {"values": [1,2,3,4,5,6,7,8,9,10], "format": "d"}},
    "y": {"field": "y0", "type": "quantitative", "scale": {"domain": [0, 1], "nice": false}, "axis": {"values": [0,0.2,0.4,0.6,0.8,1], "format": ".1f"}},
    "text": {"field": "aa"},
    "size": {"field": "p", "type": "quantitative", "scale": {"type": "linear", "domain": [0, 1], "range": [0, 279]}, "legend": null},
    "color": {"field": "aa", "type": "nominal", "scale": {"domain": ["K","R","D","E","C","P","G","A","V","L","I","M","F","W","S","T","N","Q","Y","H"], "range": ["#cc6256","#cc6256","#95639b","#95639b","#a4679f","#968c3c","#968c3c","#5f87b7","#5f87b7","#5f87b7","#5f87b7","#5f87b7","#5f87b7","#5f87b7","#7bd17b","#7bd17b","#7bd17b","#7bd17b","#589e98","#589e98"]}, "legend": null},
    "opacity": {"field": "p", "type": "quantitative", "scale": {"domain": [0, 0.7], "range": [0, 1], "clamp": true}, "legend": null}
  },
  "layer": [
    {"transform": [{"filter": "datum.p < 0.4"}], "mark": {"type": "text", "clip": true}},
    {"transform": [{"filter": "datum.p >= 0.4"}], "mark": {"type": "text", "clip": true, "align": "right", "dx": 34}}
  ]
},
{
  "width": 738, "height": 201,
  "title": "Atfu-B*01:01 11-mer",
  "data": {"name": "logo"},
  "transform": [
    {"filter": "datum.mer == 11"},
    {"stack": "p", "groupby": ["pos"], "sort": [{"field": "p", "order": "descending"}], "as": ["y0", "y1"]}
  ],
  "encoding": {
    "x": {"field": "pos", "type": "quantitative", "scale": {"domain": [0.6, 11.4], "nice": false, "zero": false}, "axis": {"values": [1,2,3,4,5,6,7,8,9,10,11], "format": "d"}},
    "y": {"field": "y0", "type": "quantitative", "scale": {"domain": [0, 1], "nice": false}, "axis": {"values": [0,0.2,0.4,0.6,0.8,1], "format": ".1f"}},
    "text": {"field": "aa"},
    "size": {"field": "p", "type": "quantitative", "scale": {"type": "linear", "domain": [0, 1], "range": [0, 279]}, "legend": null},
    "color": {"field": "aa", "type": "nominal", "scale": {"domain": ["K","R","D","E","C","P","G","A","V","L","I","M","F","W","S","T","N","Q","Y","H"], "range": ["#cc6256","#cc6256","#95639b","#95639b","#a4679f","#968c3c","#968c3c","#5f87b7","#5f87b7","#5f87b7","#5f87b7","#5f87b7","#5f87b7","#5f87b7","#7bd17b","#7bd17b","#7bd17b","#7bd17b","#589e98","#589e98"]}, "legend": null},
    "opacity": {"field": "p", "type": "quantitative", "scale": {"domain": [0, 0.7], "range": [0, 1], "clamp": true}, "legend": null}
  },
  "layer": [
    {"transform": [{"filter": "datum.p < 0.4"}], "mark": {"type": "text", "clip": true}},
    {"transform": [{"filter": "datum.p >= 0.4"}], "mark": {"type": "text", "clip": true, "align": "right", "dx": 40}}
  ]
}
]
}
